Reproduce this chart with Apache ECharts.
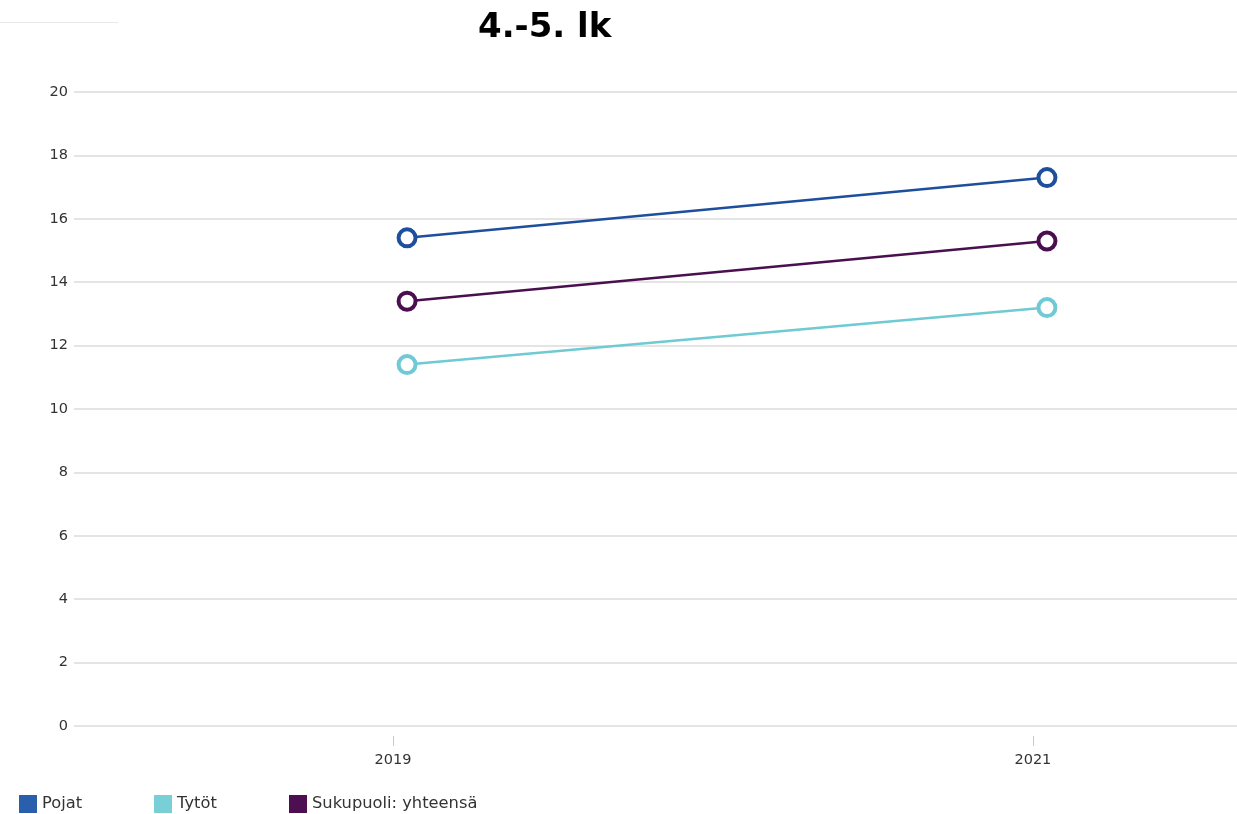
<!DOCTYPE html>
<html><head><meta charset="utf-8">
<script src="https://cdn.jsdelivr.net/npm/echarts@6/dist/echarts.min.js"></script>
<style>html,body{margin:0;padding:0;background:#fff}#c{width:1237px;height:814px}</style>
</head><body><div id="c"></div>
<script>
const title = '4.-5. lk';
const years = [2019, 2021];
const seriesNames = ['Pojat', 'Tytöt', 'Sukupuoli: yhteensä'];
const pojat = [15.4, 17.3];
const tytot = [11.4, 13.2];
const yhteensa = [13.4, 15.3];
const yTicks = [0, 2, 4, 6, 8, 10, 12, 14, 16, 18, 20];

const colors = ['#1d4f9c', '#6fcad3', '#4a0f4f'];
const legendColors = ['#2a5fae', '#79cfd6', '#4e0f52'];
const tickShift = -0.044;
const font = 'DejaVu Sans';

const chart = echarts.init(document.getElementById('c'));
const values = [pojat, tytot, yhteensa];
const series = seriesNames.map((n, i) => ({
  name: n, type: 'line',
  data: years.map((y, j) => [y, values[i][j]]),
  symbol: 'circle', symbolSize: 17,
  lineStyle: { color: colors[i], width: 2.5 },
  itemStyle: { color: '#fff', borderColor: colors[i], borderWidth: 4 },
  emphasis: { disabled: true },
  z: 3
}));
const legends = seriesNames.map((n, i) => ({
  data: [{ name: n, itemStyle: { color: legendColors[i], borderWidth: 0 } }],
  left: 19 + i * 135, top: 795, padding: 0,
  icon: 'rect', itemWidth: 18, itemHeight: 18, itemGap: 5,
  textStyle: { fontFamily: font, fontSize: 16.3, color: '#333' },
  selectedMode: false
}));
chart.setOption({
  animation: false,
  title: { text: title, left: 478, top: 11, padding: 0,
    textStyle: { fontFamily: 'DejaVu Sans', fontWeight: 'bold', fontSize: 34, color: '#000' } },
  graphic: [{ type: 'line', shape: { x1: 0, y1: 22.5, x2: 118, y2: 22.5 }, style: { stroke: '#e8e8e8', lineWidth: 1 } }],
  legend: legends,
  grid: { left: 74, right: 0, top: 92, bottom: 88, containLabel: false },
  xAxis: {
    type: 'value', position: 'bottom', min: 2017.959, max: 2021.594, offset: 10,
    axisLine: { show: false, onZero: false },
    splitLine: { show: false },
    axisTick: { show: true, length: 10, customValues: years.map(y => y + tickShift), lineStyle: { color: '#c8c8c8' } },
    axisLabel: { customValues: years.map(y => y + tickShift), formatter: v => String(Math.round(v)),
      margin: 17, fontFamily: font, fontSize: 14.5, color: '#333' }
  },
  yAxis: {
    type: 'value', min: yTicks[0], max: yTicks[yTicks.length - 1], interval: 2,
    axisLine: { show: false }, axisTick: { show: false },
    splitLine: { lineStyle: { color: '#e4e4e4', width: 2 } },
    axisLabel: { margin: 6, fontFamily: font, fontSize: 14.5, color: '#333' }
  },
  series: series
});
</script></body></html>
